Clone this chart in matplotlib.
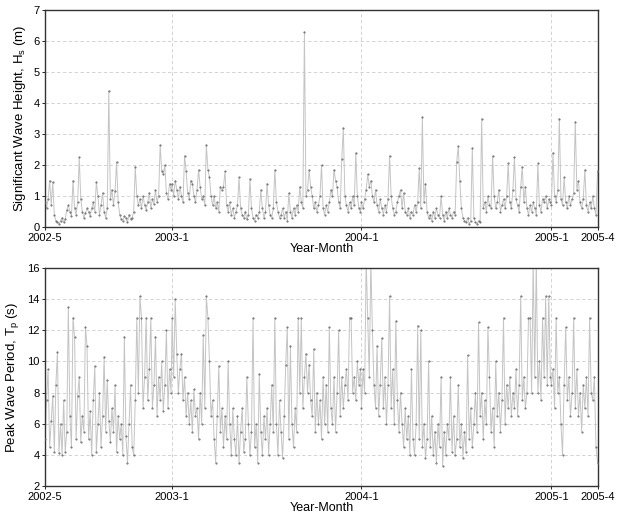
import numpy as np
import pandas as pd
import matplotlib
matplotlib.use("Agg")
import matplotlib.pyplot as plt

plt.rcParams['font.family'] = ['Liberation Sans', 'DejaVu Sans']

# Hs (m), roughly one reading every 3 days, split by year
hs_2002 = [0.8, 0.6, 0.9, 1.5, 0.7, 1.45, 0.4, 0.2, 0.15, 0.1,
           0.2, 0.3, 0.15, 0.25, 0.55, 0.7, 0.5, 0.35, 1.5, 0.6,
           0.4, 0.8, 2.25, 0.9, 0.5, 0.3, 0.45, 0.6, 0.5, 0.35,
           0.6, 0.8, 0.5, 1.45, 1.0, 0.4, 0.7, 1.1, 0.5, 0.3,
           0.6, 4.4, 0.9, 1.2, 0.7, 1.15, 2.1, 0.8, 0.4, 0.25,
           0.2, 0.35, 0.3, 0.15, 0.4, 0.25, 0.3, 0.5, 1.95, 1.0,
           0.7, 0.9, 0.6, 1.0, 0.7, 0.55, 0.8, 1.1, 0.6, 0.9,
           0.75, 1.2, 0.8, 1.0, 2.65, 1.8, 1.7, 2.0, 1.1, 0.9,
           1.4, 1.2]
hs_2003 = [1.4, 1.0, 1.5, 1.2, 0.9, 1.3, 1.0, 0.8, 2.3, 1.8,
           1.1, 0.9, 1.5, 1.4, 1.0, 0.8, 1.2, 1.85, 1.3, 0.9,
           1.0, 0.7, 2.65, 1.85, 1.6, 1.0, 0.7, 1.0, 0.6, 0.8,
           0.5, 1.3, 1.2, 1.3, 1.8, 0.7, 0.5, 0.8, 0.4, 0.6,
           0.3, 0.5, 0.7, 1.6, 0.6, 0.4, 0.3, 0.5, 0.25, 0.4,
           1.55, 0.6, 0.3, 0.2, 0.4, 0.3, 0.5, 1.2, 0.6, 0.3,
           0.5, 1.4, 0.7, 0.4, 0.3, 0.6, 1.85, 0.8, 0.5, 0.3,
           0.4, 0.6, 0.3, 0.5, 0.2, 1.1, 0.5, 0.3, 0.6, 0.4,
           0.7, 0.5, 1.3, 0.8, 0.6, 6.3, 1.0, 1.2, 1.85, 1.3,
           1.0, 0.6, 0.8, 0.5, 0.7, 1.0, 2.0, 0.6, 0.4, 0.7,
           0.5, 0.8, 1.2, 1.0, 1.85, 1.5, 1.3, 0.8, 0.6, 2.2,
           3.2, 1.0, 0.7, 0.5, 0.8, 0.6, 1.0, 0.7, 2.4, 1.0,
           0.6, 0.5]
hs_2004 = [0.8, 0.6, 0.9, 1.2, 1.7, 1.3, 1.5, 1.0, 0.8, 1.2,
           0.7, 0.5, 0.9, 0.6, 0.4, 0.7, 0.5, 0.9, 2.3, 1.0,
           0.6, 0.4, 0.5, 0.8, 1.0, 1.2, 0.6, 1.1, 0.5, 0.4,
           0.6, 0.3, 0.5, 0.4, 0.7, 0.5, 0.8, 1.9, 0.6, 3.55,
           0.8, 1.4, 0.5, 0.3, 0.4, 0.2, 0.5, 0.3, 0.6, 0.4,
           0.3, 1.0, 0.4, 0.2, 0.5, 0.3, 0.6, 0.4, 0.3, 0.5,
           0.4, 2.1, 2.6, 1.5, 0.6, 0.3, 0.2, 0.15, 0.3, 0.1,
           0.2, 2.55, 0.3, 0.15, 0.1, 0.2, 0.15, 3.5, 0.6, 0.8,
           0.5, 1.0, 0.7, 0.6, 2.3, 1.0, 0.6, 0.8, 1.2, 0.5,
           0.7, 0.9, 0.6, 1.0, 2.05, 0.8, 0.6, 1.2, 2.25, 0.9,
           0.7, 0.5, 1.3, 1.95, 0.8, 1.3, 0.6, 0.4, 0.7, 0.5,
           0.8, 0.6, 0.4, 2.05, 0.7, 0.5, 0.9, 0.8, 1.0, 0.6,
           0.9, 0.8]
hs_2005 = [0.7, 2.4, 1.0, 0.8, 1.2, 3.5, 0.9, 0.7, 1.6, 0.8,
           0.6, 1.0, 0.7, 0.9, 1.1, 3.4, 1.2, 1.5, 0.8, 0.6,
           0.9, 1.85, 0.7, 0.5, 0.8, 0.6, 1.0, 0.6, 0.4, 1.8]

# Tp (s), same sampling
tp_2002 = [5.0, 7.5, 9.5, 4.5, 6.2, 7.8, 4.2, 8.5, 10.6, 4.1,
           6.0, 4.0, 7.5, 4.2, 5.5, 13.5, 6.5, 4.5, 12.8, 11.6,
           5.0, 7.8, 9.0, 4.8, 6.5, 5.5, 12.2, 11.0, 5.0, 6.8,
           4.0, 7.5, 9.7, 4.2, 6.0, 8.0, 4.5, 6.5, 10.3, 5.5,
           8.8, 6.2, 4.8, 7.0, 5.5, 8.5, 4.2, 6.5, 5.0, 6.0,
           4.0, 11.6, 5.2, 3.5, 6.0, 8.5, 4.5, 4.0, 7.5, 12.8,
           8.0, 14.2, 12.8, 7.0, 9.0, 12.8, 7.5, 9.5, 12.8, 7.0,
           8.5, 11.6, 6.5, 9.0, 7.5, 10.0, 6.8, 8.5, 12.0, 7.0,
           9.5, 8.0]
tp_2003 = [12.8, 9.0, 14.0, 10.5, 8.0, 9.5, 10.5, 7.5, 9.0, 6.5,
           8.0, 6.0, 7.5, 5.5, 8.2, 6.5, 7.0, 5.0, 8.0, 6.0,
           11.7, 7.0, 14.2, 12.8, 10.0, 6.5, 7.5, 5.0, 3.5, 6.5,
           9.7, 5.5, 7.0, 4.5, 6.5, 5.0, 10.0, 6.0, 4.0, 7.0,
           5.0, 4.0, 6.5, 3.5, 5.5, 7.0, 4.2, 5.0, 9.0, 6.0,
           4.0, 5.5, 12.8, 4.5, 6.0, 3.5, 9.2, 5.5, 4.0, 6.5,
           5.0, 7.0, 4.0, 6.0, 8.5, 5.5, 12.8, 6.0, 4.0, 7.5,
           5.5, 3.8, 6.5, 9.8, 12.2, 5.0, 11.0, 6.0, 4.5, 7.0,
           5.5, 12.8, 8.0, 12.8, 7.0, 9.0, 10.5, 8.0, 9.8, 7.5,
           6.5, 10.8, 5.5, 8.0, 6.0, 7.5, 5.0, 9.0, 6.0, 8.5,
           5.5, 12.2, 7.0, 6.0, 9.0, 5.5, 8.0, 12.0, 6.5, 9.0,
           7.0, 8.5, 9.5, 7.5, 12.8, 12.8, 8.0, 9.0, 7.5, 10.0,
           8.5, 9.5]
tp_2004 = [7.0, 9.5, 8.0, 16.5, 12.8, 9.0, 16.5, 12.0, 8.5, 7.0,
           11.0, 6.5, 8.5, 11.5, 7.0, 9.0, 6.0, 8.5, 14.2, 7.0,
           9.5, 6.0, 12.6, 7.5, 5.5, 8.0, 6.0, 4.5, 7.0, 5.0,
           6.5, 4.0, 9.5, 5.0, 4.0, 6.0, 12.3, 5.0, 12.0, 4.5,
           6.0, 3.8, 5.0, 10.0, 4.5, 6.5, 4.0, 5.5, 3.5, 6.0,
           4.5, 9.0, 3.3, 5.5, 4.0, 6.0, 5.0, 9.0, 4.2, 6.5,
           4.0, 5.0, 8.5, 4.5, 6.0, 3.8, 5.5, 4.2, 10.4, 5.0,
           7.0, 4.5, 6.0, 8.0, 5.5, 12.5, 6.5, 8.0, 5.0, 7.5,
           6.0, 12.2, 9.0, 5.5, 7.0, 4.5, 10.0, 6.5, 8.0, 5.5,
           7.5, 12.8, 6.0, 8.5, 7.0, 9.0, 6.5, 8.0, 7.0, 9.5,
           6.5, 8.5, 14.2, 7.5, 9.0, 7.0, 8.0, 12.8, 12.8, 8.0,
           16.5, 9.0, 16.5, 8.0, 10.0, 7.5, 12.8, 9.0, 14.2, 8.5,
           14.2, 9.0]
tp_2005 = [8.5, 9.5, 7.0, 12.8, 8.0, 9.0, 6.0, 4.0, 8.5, 12.2,
           7.5, 9.0, 6.5, 8.0, 12.8, 7.0, 9.5, 6.5, 8.0, 5.5,
           8.5, 7.0, 9.0, 6.5, 12.8, 8.0, 7.5, 9.0, 4.5, 3.5]

year_spans = [('2002-05-01', '2002-12-30'), ('2003-01-01', '2003-12-30'),
              ('2004-01-01', '2004-12-30'), ('2005-01-01', '2005-03-31')]

tick_dates = ['2002-05-01', '2003-01-01', '2004-01-01', '2005-01-01', '2005-04-01']
tick_labels = ['2002-5', '2003-1', '2004-1', '2005-1', '2005-4']


def build_series(parts):
    idx = []
    vals = []
    for (start, end), part in zip(year_spans, parts):
        idx.append(pd.date_range(start, end, periods=len(part)))
        vals.extend(part)
    return pd.Series(vals, index=idx[0].append(idx[1:]))


hs = build_series([hs_2002, hs_2003, hs_2004, hs_2005])
tp = build_series([tp_2002, tp_2003, tp_2004, tp_2005])

fig = plt.figure(figsize=(6.23, 5.13), dpi=100)
ax1 = fig.add_axes([0.0722, 0.5575, 0.8878, 0.4230])
ax2 = fig.add_axes([0.0722, 0.0526, 0.8878, 0.4250])


def style_axis(ax, series, ylim, yticks, ylabel):
    ax.plot(series.index, series.values, color='#c4c4c4', lw=0.7, zorder=2)
    ax.plot(series.index, series.values, ls='none', marker='.', ms=1.0,
            color='#666666', zorder=3)
    ax.set_xlim(pd.Timestamp('2002-05-01'), pd.Timestamp('2005-04-01'))
    ax.set_ylim(*ylim)
    ax.set_yticks(yticks)
    ax.set_xticks(pd.to_datetime(tick_dates))
    ax.set_xticklabels(tick_labels)
    ax.grid(True, ls=(0, (4, 3)), color='#cccccc', lw=0.6, zorder=1)
    ax.tick_params(axis='both', labelsize=8, length=2, width=0.6)
    ax.tick_params(axis='x', pad=2)
    ax.tick_params(axis='y', pad=2)
    for s in ax.spines.values():
        s.set_color('#333333')
        s.set_linewidth(1.0)
    ax.set_xlabel('Year-Month', fontsize=9, labelpad=0)
    ax.set_ylabel(ylabel, fontsize=9.5, labelpad=4)


style_axis(ax1, hs, (0, 7), range(0, 8),
           r'Significant Wave Height, H$_\mathregular{s}$ (m)')
style_axis(ax2, tp, (2, 16), range(2, 17, 2),
           r'Peak Wave Period, T$_\mathregular{p}$ (s)')

fig.savefig('out.png', dpi=100)
